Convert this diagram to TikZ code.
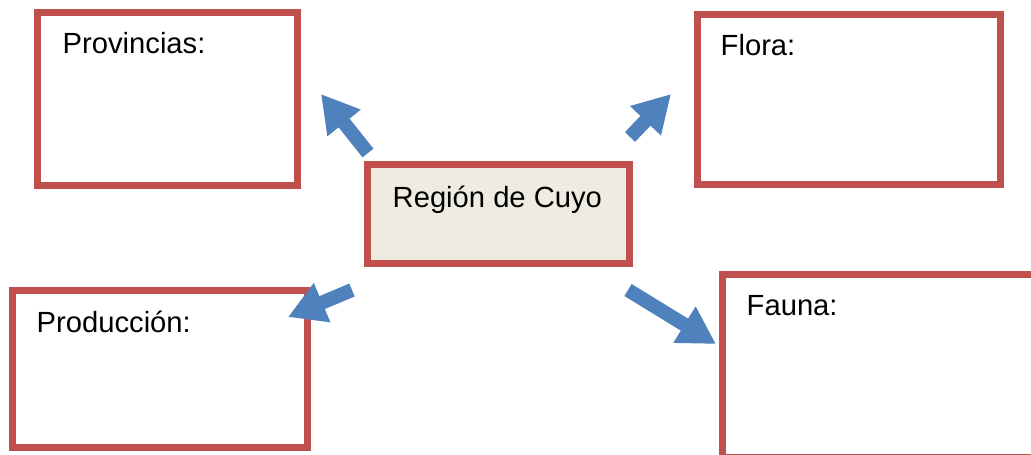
\documentclass[tikz,border=0pt]{standalone}
\usepackage{fontspec}
\setmainfont{Liberation Sans}
\usetikzlibrary{arrows.meta}
\definecolor{boxred}{HTML}{C0504D}
\definecolor{arrowblue}{HTML}{4F81BD}
\definecolor{regionfill}{HTML}{EEECE1}
\begin{document}
\begin{tikzpicture}[x=0.01cm, y=-0.01cm,
    infobox/.style={draw=boxred, line width=0.07cm, inner sep=0pt, fill=white},
    boxtext/.style={anchor=base west, inner sep=0pt, font=\fontsize{8.3}{10}\selectfont},
    blockarrow/.style={draw=arrowblue, line width=0.14cm, line cap=butt,
        -{Triangle[width=0.40cm, length=0.37cm, fill=arrowblue]}}]
            \useasboundingbox (0,0) rectangle (1031,454);
            % boxes
            \node[infobox, minimum width=2.59cm, minimum height=1.72cm] (prov) at (167.5,99) {};
            \node[infobox, minimum width=3.02cm, minimum height=1.69cm] (flora) at (849,99.5) {};
            \node[infobox, fill=regionfill, minimum width=2.61cm, minimum height=0.98cm] (cuyo) at (498.5,214) {};
            \node[infobox, minimum width=2.94cm, minimum height=1.56cm] (prod) at (160,369) {};
            \node[infobox, minimum width=3.12cm, minimum height=1.82cm] (fauna) at (879,366) {};
            % labels
            \node[boxtext] (provtext) at (62,53) {Provincias:};
            \node[boxtext] (floratext) at (720,55) {Flora:};
            \node[boxtext] (cuyotext) at (392,207) {Región de Cuyo};
            \node[boxtext] (prodtext) at (36,332) {Producción:};
            \node[boxtext] (faunatext) at (746,315) {Fauna:};
            % arrow ends
            \coordinate (provtail) at (368,153);
            \coordinate (provtip) at (321,94);
            \coordinate (floratail) at (630,137);
            \coordinate (floratip) at (671,94);
            \coordinate (prodtail) at (352,290);
            \coordinate (prodtip) at (288,317);
            \coordinate (faunatail) at (628,290);
            \coordinate (faunatip) at (716,344);
            % arrows
            \draw[blockarrow] (provtail) -- (provtip);
            \draw[blockarrow] (floratail) -- (floratip);
            \draw[blockarrow] (prodtail) -- (prodtip);
            \draw[blockarrow] (faunatail) -- (faunatip);
        \end{tikzpicture}
\end{document}
